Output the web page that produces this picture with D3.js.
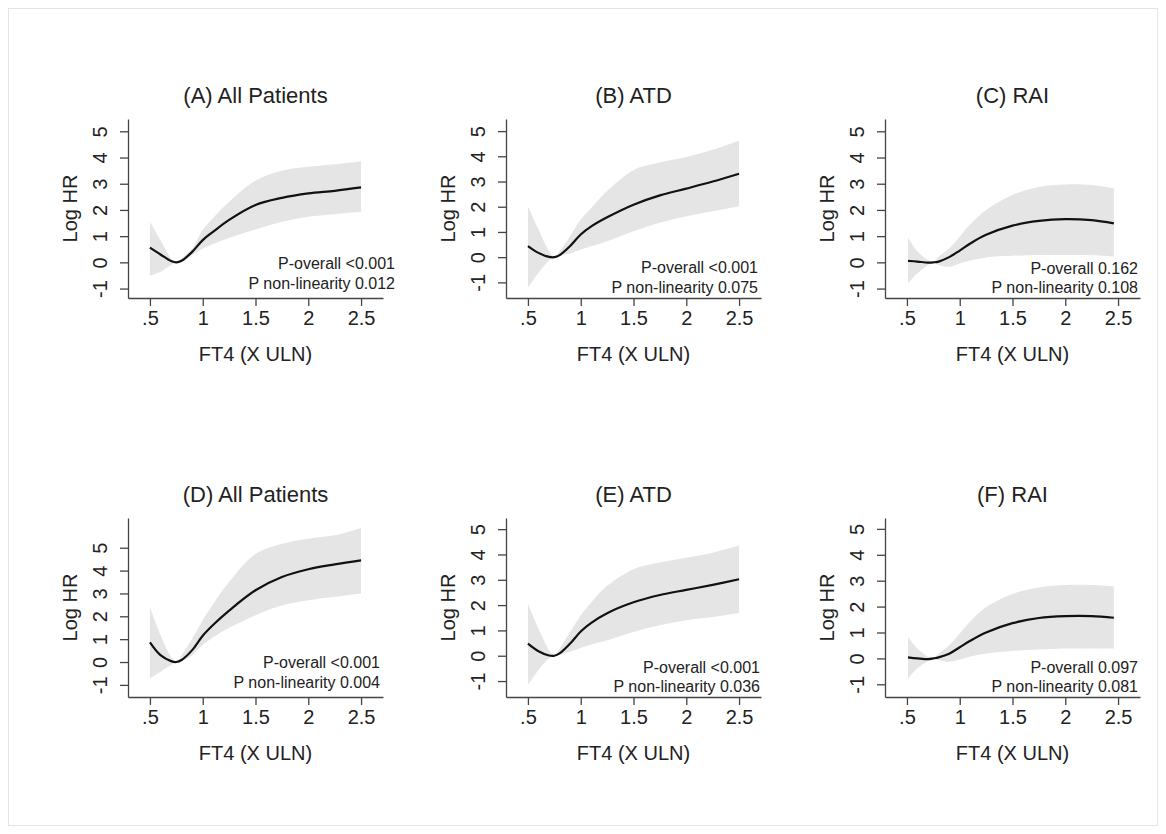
<!DOCTYPE html>
<html>
<head>
<meta charset="utf-8">
<script src="https://cdn.jsdelivr.net/npm/d3@7"></script>
<style>
  body { margin: 0; background: #fff; }
  svg { display: block; font-family: "Liberation Sans", Arial, sans-serif; }
</style>
</head>
<body>
<svg id="chart" width="1166" height="834"></svg>
<script>
// x grid (FT4, x ULN)
var xAll = [0.5, 0.6, 0.7, 0.75, 0.8, 0.9, 1.0, 1.1, 1.25, 1.5, 1.75, 2.0, 2.25, 2.5];
var xRai = [0.51, 0.6, 0.7, 0.75, 0.8, 0.9, 1.0, 1.1, 1.25, 1.5, 1.75, 2.0, 2.25, 2.46];

// (A) All patients
var estA = [0.56, 0.3, 0.05, 0, 0.06, 0.4, 0.85, 1.17, 1.62, 2.19, 2.46, 2.63, 2.73, 2.86];
var hiA  = [1.55, 0.85, 0.15, 0, 0.15, 0.53, 1.23, 1.7, 2.3, 3.12, 3.5, 3.65, 3.74, 3.86];
var loA  = [-0.51, -0.36, -0.1, 0, 0.03, 0.28, 0.53, 0.7, 0.93, 1.25, 1.55, 1.74, 1.84, 1.93];
// (B) ATD
var estB = [0.44, 0.17, 0.01, 0, 0.08, 0.44, 0.9, 1.22, 1.58, 2.08, 2.45, 2.72, 3.0, 3.31];
var hiB  = [2.02, 1.1, 0.24, 0, 0.24, 0.83, 1.49, 1.95, 2.62, 3.45, 3.75, 3.97, 4.26, 4.62];
var loB  = [-1.21, -0.62, -0.13, 0, 0.07, 0.15, 0.3, 0.43, 0.63, 1.03, 1.36, 1.62, 1.82, 2.02];
// (C) RAI
var estC = [0.06, 0.03, -0.01, 0, 0.03, 0.2, 0.45, 0.72, 1.05, 1.4, 1.58, 1.65, 1.61, 1.49];
var hiC  = [0.95, 0.41, 0.09, 0, 0.22, 0.53, 0.98, 1.45, 2.0, 2.57, 2.88, 2.97, 2.95, 2.82];
var loC  = [-0.8, -0.42, -0.1, 0, -0.1, -0.17, -0.04, 0.07, 0.19, 0.25, 0.28, 0.28, 0.27, 0.22];
// (D) All patients
var estD = [0.86, 0.3, 0.04, 0, 0.09, 0.52, 1.15, 1.63, 2.25, 3.14, 3.72, 4.06, 4.27, 4.45];
var hiD  = [2.41, 1.18, 0.23, 0, 0.3, 1.03, 1.83, 2.55, 3.5, 4.72, 5.17, 5.39, 5.54, 5.86];
var loD  = [-0.71, -0.42, -0.13, 0, 0.04, 0.3, 0.74, 1.08, 1.5, 2.05, 2.47, 2.7, 2.85, 3.0];
// (E) ATD
var estE = [0.48, 0.18, 0.01, 0, 0.09, 0.48, 0.96, 1.3, 1.68, 2.11, 2.4, 2.6, 2.8, 3.02];
var hiE  = [2.05, 1.07, 0.22, 0, 0.29, 0.94, 1.59, 2.1, 2.76, 3.42, 3.68, 3.87, 4.07, 4.35];
var loE  = [-1.15, -0.56, -0.1, 0, 0.05, 0.16, 0.31, 0.44, 0.61, 0.94, 1.2, 1.4, 1.53, 1.69];
// (F) RAI
var estF = [0.04, 0, -0.03, 0, 0.04, 0.18, 0.43, 0.68, 1.0, 1.36, 1.56, 1.63, 1.63, 1.57];
var hiF  = [0.83, 0.38, 0.06, 0, 0.19, 0.51, 0.96, 1.42, 1.98, 2.49, 2.74, 2.83, 2.83, 2.78];
var loF  = [-0.77, -0.38, -0.1, 0, -0.06, -0.13, -0.04, 0.07, 0.19, 0.29, 0.34, 0.38, 0.38, 0.38];

var titles = ["(A) All Patients", "(B) ATD", "(C) RAI", "(D) All Patients", "(E) ATD", "(F) RAI"];
var pOverall = ["<0.001", "<0.001", "0.162", "<0.001", "<0.001", "0.097"];
var pNonlin = ["0.012", "0.075", "0.108", "0.004", "0.036", "0.081"];
var xTicks = [0.5, 1, 1.5, 2, 2.5];
var xTickLabels = [".5", "1", "1.5", "2", "2.5"];
var yTicks = [-1, 0, 1, 2, 3, 4, 5];

var panels = [
  {x: xAll, est: estA, hi: hiA, lo: loA, yDom: [-1.36, 5.47], col: 0, row: 0, noteR: 267, noteY: [263, 283]},
  {x: xAll, est: estB, hi: hiB, lo: loB, yDom: [-1.62, 5.48], col: 1, row: 0, noteR: 252, noteY: [267, 287]},
  {x: xRai, est: estC, hi: hiC, lo: loC, yDom: [-1.36, 5.47], col: 2, row: 0, noteR: 253, noteY: [268, 287]},
  {x: xAll, est: estD, hi: hiD, lo: loD, yDom: [-1.53, 6.3], col: 0, row: 1, noteR: 252, noteY: [263, 283]},
  {x: xAll, est: estE, hi: hiE, lo: loE, yDom: [-1.63, 5.44], col: 1, row: 1, noteR: 254, noteY: [268, 287]},
  {x: xRai, est: estF, hi: hiF, lo: loF, yDom: [-1.49, 5.42], col: 2, row: 1, noteR: 253, noteY: [268, 287]}
];

var svg = d3.select("#chart");
svg.append("rect").attr("x", 8.5).attr("y", 8.5).attr("width", 1149).attr("height", 817)
  .attr("fill", "none").attr("stroke", "#e4e4e4");

var colX = [128, 506, 885],
    rowOff = [0, 399],
    plotW = 255, pad = 0.5 * 12 / 57.75;

var smooth = d3.curveCatmullRom.alpha(0.5);

panels.forEach(function(p, i) {
  var left = colX[p.col], top = 119 + rowOff[p.row], bottom = 298 + rowOff[p.row];
  var g = svg.append("g");

  var x = d3.scaleLinear().domain([0.5 - 2 * pad, 2.5 + 2 * pad]).range([left, left + plotW]);
  var y = d3.scaleLinear().domain(p.yDom).range([bottom, top]);

  var pts = p.x.map(function(v, j) { return {x: v, est: p.est[j], lo: p.lo[j], hi: p.hi[j]}; });

  g.append("path").datum(pts)
    .attr("fill", "#e5e5e5")
    .attr("d", d3.area().curve(smooth)
      .x(function(d) { return x(d.x); })
      .y0(function(d) { return y(d.lo); })
      .y1(function(d) { return y(d.hi); }));

  g.append("path").datum(pts)
    .attr("fill", "none").attr("stroke", "#111").attr("stroke-width", 2.2)
    .attr("d", d3.line().curve(smooth)
      .x(function(d) { return x(d.x); })
      .y(function(d) { return y(d.est); }));

  var ya = g.append("g").attr("transform", "translate(" + left + ",0)")
    .call(d3.axisLeft(y).tickValues(yTicks).tickSize(8).tickSizeOuter(0)
      .tickFormat(function(d) { return String(d); }));
  ya.selectAll(".tick text")
    .attr("transform", "rotate(-90)")
    .attr("x", 0).attr("y", -28).attr("dy", "0.35em")
    .attr("text-anchor", "middle");

  var xa = g.append("g").attr("transform", "translate(0," + bottom + ")")
    .call(d3.axisBottom(x).tickValues(xTicks).tickSize(8).tickSizeOuter(0)
      .tickFormat(function(d, k) { return xTickLabels[k]; }));
  xa.selectAll(".tick text").attr("y", 13).attr("dy", "0.71em");

  [ya, xa].forEach(function(a) {
    a.attr("font-size", null).attr("font-family", null);
    a.select(".domain").attr("stroke", "#444").attr("stroke-width", 1.3);
    a.selectAll(".tick line").attr("stroke", "#444").attr("stroke-width", 1.3);
    a.selectAll(".tick text").attr("fill", "#222").style("font-size", "20px");
  });

  g.append("text")
    .attr("x", left + plotW / 2).attr("y", 95 + rowOff[p.row]).attr("dy", "0.35em")
    .attr("text-anchor", "middle").attr("fill", "#222").style("font-size", "22px")
    .text(titles[i]);

  g.append("text")
    .attr("transform", "translate(" + (left - 58) + "," + ((top + bottom) / 2) + ") rotate(-90)")
    .attr("dy", "0.35em").attr("text-anchor", "middle").attr("fill", "#222").style("font-size", "20px")
    .text("Log HR");

  g.append("text")
    .attr("x", left + plotW / 2).attr("y", bottom + 56).attr("dy", "0.35em")
    .attr("text-anchor", "middle").attr("fill", "#222").style("font-size", "20px")
    .text("FT4 (X ULN)");

  var notes = ["P-overall " + pOverall[i], "P non-linearity " + pNonlin[i]];
  notes.forEach(function(t, k) {
    g.append("text")
      .attr("x", left + p.noteR).attr("y", p.noteY[k] + rowOff[p.row]).attr("dy", "0.35em")
      .attr("text-anchor", "end").attr("fill", "#222").style("font-size", "16px")
      .text(t);
  });
});
</script>
</body>
</html>
